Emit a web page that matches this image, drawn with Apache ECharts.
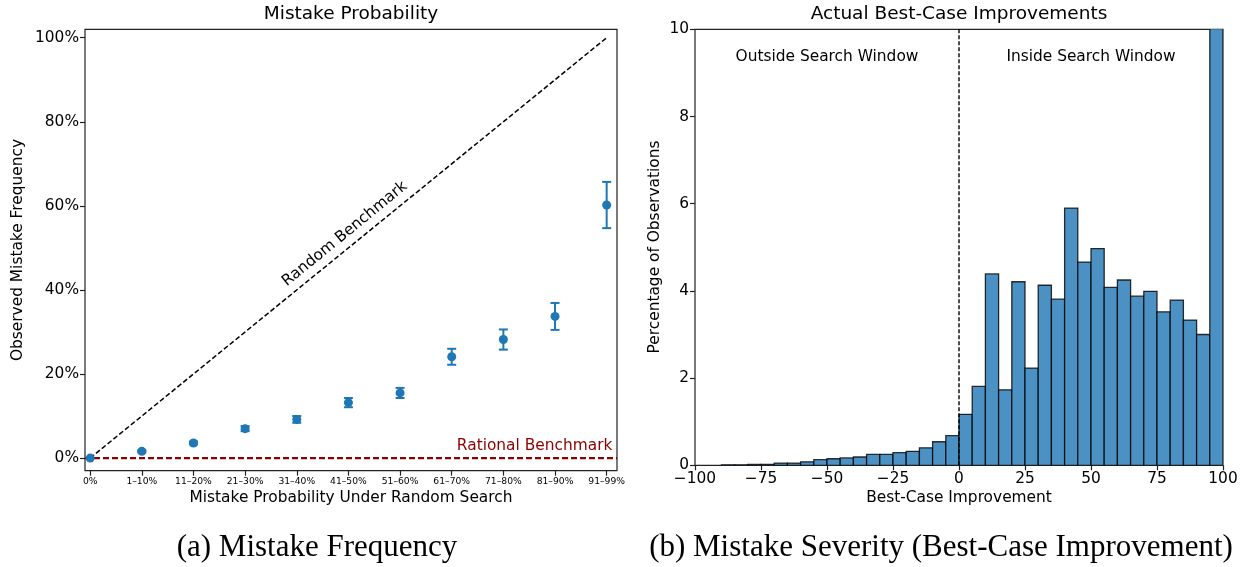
<!DOCTYPE html>
<html>
<head>
<meta charset="utf-8">
<script src="https://cdn.jsdelivr.net/npm/echarts@6/dist/echarts.min.js"></script>
<style>
  html, body { margin: 0; padding: 0; background: #fff; }
  #chart { width: 1246px; height: 567px; }
</style>
</head>
<body>
<div id="chart"></div>
<script>
// (a) mistake frequency by random-search mistake probability bin
const probBins = ['0%', '1–10%', '11–20%', '21–30%', '31–40%', '41–50%', '51–60%', '61–70%', '71–80%', '81–90%', '91–99%'];
const mistakeFreq = [0, 1.6, 3.6, 7.0, 9.2, 13.2, 15.5, 24.1, 28.2, 33.7, 60.2];
const mistakeErr = [0, 0.25, 0.35, 0.6, 0.8, 1.1, 1.2, 1.9, 2.4, 3.2, 5.5];
const freqTicks = [0, 20, 40, 60, 80, 100];

// (b) best-case improvement histogram, 5-point bins
const binLeft = [-100, -95, -90, -85, -80, -75, -70, -65, -60, -55, -50, -45, -40, -35, -30, -25, -20, -15, -10, -5,
  0, 5, 10, 15, 20, 25, 30, 35, 40, 45, 50, 55, 60, 65, 70, 75, 80, 85, 90, 95];
const binRight = [-95, -90, -85, -80, -75, -70, -65, -60, -55, -50, -45, -40, -35, -30, -25, -20, -15, -10, -5, 0,
  5, 10, 15, 20, 25, 30, 35, 40, 45, 50, 55, 60, 65, 70, 75, 80, 85, 90, 95, 100];
const obsPct = [0, 0, 0.01, 0.01, 0.02, 0.02, 0.05, 0.05, 0.08, 0.13, 0.15, 0.17, 0.19, 0.25, 0.25, 0.29, 0.32, 0.40, 0.54, 0.68,
  1.17, 1.81, 4.39, 1.73, 4.21, 2.23, 4.13, 3.81, 5.90, 4.66, 4.97, 4.08, 4.25, 3.88, 3.99, 3.52, 3.79, 3.33, 3.00, 12.0];
const improveTicks = [-100, -75, -50, -25, 0, 25, 50, 75, 100];

const FONT = 'DejaVu Sans';
const BLUE = '#1f77b4';
const FRAME = '#222';

const chart = echarts.init(document.getElementById('chart'));

function fmtMinus(v) {
  return v < 0 ? '\u2212' + Math.abs(v) : String(v);
}

function errorBarItem(params, api) {
  const x = api.value(0), y = api.value(1), e = api.value(2);
  const c = api.coord([x, y]);
  const top = api.coord([x, y + e]);
  const bot = api.coord([x, y - e]);
  const lw = 2;
  const children = [];
  if (e > 0) {
    children.push(
      { type: 'line', shape: { x1: c[0], y1: top[1], x2: c[0], y2: bot[1] }, style: { stroke: BLUE, lineWidth: lw } },
      { type: 'line', shape: { x1: c[0] - 4.5, y1: top[1], x2: c[0] + 4.5, y2: top[1] }, style: { stroke: BLUE, lineWidth: lw } },
      { type: 'line', shape: { x1: c[0] - 4.5, y1: bot[1], x2: c[0] + 4.5, y2: bot[1] }, style: { stroke: BLUE, lineWidth: lw } }
    );
  }
  children.push({ type: 'circle', shape: { cx: c[0], cy: c[1], r: 4.5 }, style: { fill: BLUE } });
  return { type: 'group', children: children };
}

function histItem(params, api) {
  const h = api.value(2);
  if (h <= 0) return null;
  const p0 = api.coord([api.value(0), h]);
  const p1 = api.coord([api.value(1), 0]);
  return {
    type: 'rect',
    shape: { x: p0[0], y: p0[1], width: p1[0] - p0[0], height: p1[1] - p0[1] },
    style: { fill: '#4b91c3', stroke: 'rgba(0,0,0,0.8)', lineWidth: 1.3 }
  };
}

const tickStyle = { show: true, length: 5, lineStyle: { color: FRAME, width: 1.2 } };
const labelStyle = { color: '#000', fontFamily: FONT, fontSize: 15.4 };
const hiddenLine = { show: false, onZero: false };

function textLabel(text, opts) {
  return Object.assign({
    show: true, formatter: text, color: '#000', fontFamily: FONT, fontSize: 15.4,
    position: 'inside', textBorderWidth: 0, opacity: 1
  }, opts || {});
}

const option = {
  animation: false,
  backgroundColor: '#fff',
  grid: [
    { left: 85, top: 29.3, width: 532, height: 441.4, show: true, borderColor: FRAME, borderWidth: 1.2 },
    { left: 695, top: 29.3, width: 528, height: 436, show: true, borderColor: FRAME, borderWidth: 1.2 }
  ],
  xAxis: [
    {
      gridIndex: 0, type: 'value', min: -0.1, max: 10.2,
      axisLine: hiddenLine, splitLine: { show: false },
      axisTick: Object.assign({ customValues: probBins.map((_, i) => i) }, tickStyle),
      axisLabel: {
        customValues: probBins.map((_, i) => i), margin: 6,
        formatter: v => probBins[Math.round(v)], color: '#000', fontFamily: FONT, fontSize: 9.2
      }
    },
    {
      gridIndex: 1, type: 'value', min: -100, max: 100,
      axisLine: hiddenLine, splitLine: { show: false },
      axisTick: Object.assign({ customValues: improveTicks }, tickStyle),
      axisLabel: Object.assign({ customValues: improveTicks, margin: 6, formatter: fmtMinus }, labelStyle)
    }
  ],
  yAxis: [
    {
      gridIndex: 0, type: 'value', min: -3, max: 102,
      axisLine: hiddenLine, splitLine: { show: false },
      axisTick: Object.assign({ customValues: freqTicks }, tickStyle),
      axisLabel: Object.assign({ customValues: freqTicks, margin: 6, formatter: '{value}%' }, labelStyle)
    },
    {
      gridIndex: 1, type: 'value', min: 0, max: 10, interval: 2,
      axisLine: hiddenLine, splitLine: { show: false },
      axisTick: tickStyle,
      axisLabel: Object.assign({ margin: 6 }, labelStyle)
    }
  ],
  series: [
    {
      name: 'Random Benchmark', type: 'line', xAxisIndex: 0, yAxisIndex: 0,
      data: [[0, 0], [10, 100]], symbol: 'none', z: 2,
      lineStyle: { color: '#000', width: 1.5, type: [5, 2.5] }
    },
    {
      name: 'Rational Benchmark', type: 'line', xAxisIndex: 0, yAxisIndex: 0,
      data: [[-0.1, 0], [10.2, 0]], symbol: 'none', z: 2,
      lineStyle: { color: '#8b0000', width: 2.3, type: [6, 3] }
    },
    {
      name: 'Observed', type: 'custom', xAxisIndex: 0, yAxisIndex: 0, z: 3,
      renderItem: errorBarItem,
      data: probBins.map((_, i) => [i, mistakeFreq[i], mistakeErr[i]])
    },
    {
      name: 'notes-a', type: 'scatter', xAxisIndex: 0, yAxisIndex: 0, symbolSize: 1, z: 4,
      itemStyle: { color: 'transparent' }, silent: true,
      data: [
        { value: [4.93, 53.3], label: textLabel('Random Benchmark', { rotate: 39.2 }) },
        { value: [10.12, 2.95], label: textLabel('Rational Benchmark', { position: 'left', distance: 0, color: '#8b0000' }) }
      ]
    },
    {
      name: 'Histogram', type: 'custom', xAxisIndex: 1, yAxisIndex: 1, clip: true, z: 2,
      renderItem: histItem,
      data: obsPct.map((v, i) => [binLeft[i], binRight[i], v])
    },
    {
      name: 'Window', type: 'line', xAxisIndex: 1, yAxisIndex: 1,
      data: [[0, 0], [0, 10]], symbol: 'none', z: 3,
      lineStyle: { color: '#000', width: 1.4, type: [4, 2] }
    },
    {
      name: 'notes-b', type: 'scatter', xAxisIndex: 1, yAxisIndex: 1, symbolSize: 1, z: 4,
      itemStyle: { color: 'transparent' }, silent: true,
      data: [
        { value: [-50, 9.36], label: textLabel('Outside Search Window') },
        { value: [50, 9.36], label: textLabel('Inside Search Window') }
      ]
    }
  ],
  graphic: [
    { type: 'text', x: 351, y: 14, style: { text: 'Mistake Probability', font: '18.5px "DejaVu Sans"', textAlign: 'center', textVerticalAlign: 'middle', fill: '#000' } },
    { type: 'text', x: 959, y: 14, style: { text: 'Actual Best-Case Improvements', font: '18.5px "DejaVu Sans"', textAlign: 'center', textVerticalAlign: 'middle', fill: '#000' } },
    { type: 'text', x: 351, y: 498, style: { text: 'Mistake Probability Under Random Search', font: '15.4px "DejaVu Sans"', textAlign: 'center', textVerticalAlign: 'middle', fill: '#000' } },
    { type: 'text', x: 959, y: 498, style: { text: 'Best-Case Improvement', font: '15.4px "DejaVu Sans"', textAlign: 'center', textVerticalAlign: 'middle', fill: '#000' } },
    { type: 'text', x: 18, y: 250, rotation: Math.PI / 2, style: { text: 'Observed Mistake Frequency', font: '15.4px "DejaVu Sans"', textAlign: 'center', textVerticalAlign: 'middle', fill: '#000' } },
    { type: 'text', x: 655, y: 247, rotation: Math.PI / 2, style: { text: 'Percentage of Observations', font: '15.4px "DejaVu Sans"', textAlign: 'center', textVerticalAlign: 'middle', fill: '#000' } },
    { type: 'text', x: 317, y: 548, style: { text: '(a) Mistake Frequency', font: '31px "Liberation Serif"', textAlign: 'center', textVerticalAlign: 'middle', fill: '#000' } },
    { type: 'text', x: 941, y: 548, style: { text: '(b) Mistake Severity (Best-Case Improvement)', font: '31px "Liberation Serif"', textAlign: 'center', textVerticalAlign: 'middle', fill: '#000' } }
  ]
};

chart.setOption(option);
</script>
</body>
</html>
